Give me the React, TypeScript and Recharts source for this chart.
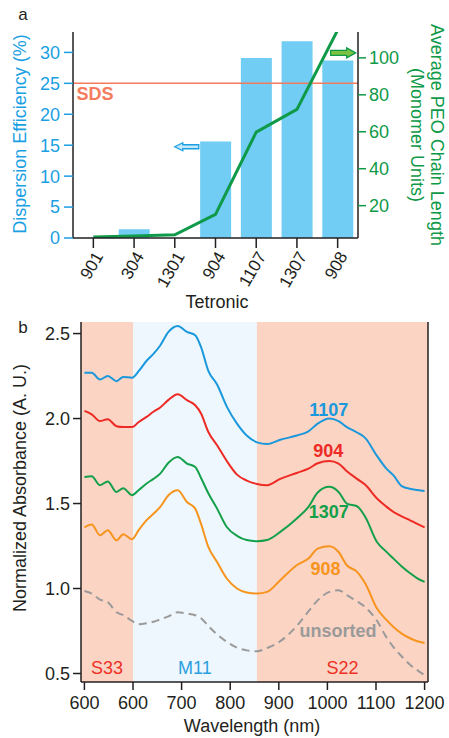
import React from "react";
import {
  ComposedChart,
  LineChart,
  Bar,
  Line,
  XAxis,
  YAxis,
  ReferenceLine,
  ReferenceArea,
  ReferenceDot,
} from "recharts";

// panel a
const tetronic = ["901", "304", "1301", "904", "1107", "1307", "908"];
const efficiency = [0, 1.4, 0, 15.6, 29.1, 31.8, 28.7];
const chainLength = [3, 3.6, 4.2, 15.3, 59.8, 72.1, 115];
const sdsLevel = 25;
const effTicks = [0, 5, 10, 15, 20, 25, 30];
const lenTicks = [20, 40, 60, 80, 100];

// panel b
const wavelength = [500, 515, 532, 548, 566, 580, 598, 612, 628, 642, 656, 673, 692, 711, 728, 740, 755, 773, 793, 814, 834, 855, 876, 903, 937, 961, 980, 1004, 1023, 1040, 1061, 1078, 1102, 1120, 1136, 1153, 1171, 1185, 1200];
const abs1107 = [2.27, 2.27, 2.23, 2.25, 2.22, 2.245, 2.24, 2.28, 2.34, 2.38, 2.43, 2.51, 2.545, 2.51, 2.49, 2.42, 2.28, 2.2, 2.07, 1.97, 1.9, 1.86, 1.85, 1.875, 1.9, 1.925, 1.97, 2.0, 1.985, 1.95, 1.918, 1.885, 1.78, 1.71, 1.666, 1.602, 1.586, 1.58, 1.574];
const abs904 = [2.045, 2.025, 1.985, 1.996, 1.955, 1.95, 1.95, 1.98, 2.01, 2.04, 2.065, 2.11, 2.143, 2.108, 2.078, 2.03, 1.921, 1.843, 1.75, 1.67, 1.635, 1.615, 1.608, 1.645, 1.68, 1.705, 1.737, 1.75, 1.735, 1.69, 1.645, 1.61, 1.53, 1.485, 1.45, 1.425, 1.4, 1.38, 1.36];
const abs1307 = [1.656, 1.66, 1.608, 1.63, 1.568, 1.59, 1.549, 1.58, 1.618, 1.645, 1.676, 1.74, 1.774, 1.735, 1.715, 1.65, 1.56, 1.47, 1.362, 1.31, 1.285, 1.278, 1.285, 1.333, 1.412, 1.48, 1.565, 1.598, 1.568, 1.5, 1.484, 1.421, 1.274, 1.22, 1.176, 1.13, 1.088, 1.06, 1.039];
const abs908 = [1.359, 1.376, 1.314, 1.343, 1.284, 1.319, 1.29, 1.345, 1.402, 1.44, 1.48, 1.549, 1.578, 1.509, 1.47, 1.38, 1.245, 1.156, 1.059, 1.0, 0.976, 0.97, 0.98, 1.049, 1.137, 1.176, 1.235, 1.249, 1.215, 1.137, 1.098, 1.029, 0.882, 0.82, 0.774, 0.735, 0.706, 0.69, 0.68];
const absUnsorted = [0.985, 0.97, 0.935, 0.92, 0.86, 0.843, 0.809, 0.79, 0.795, 0.804, 0.818, 0.836, 0.86, 0.852, 0.843, 0.825, 0.78, 0.73, 0.686, 0.652, 0.636, 0.631, 0.65, 0.69, 0.78, 0.865, 0.93, 0.98, 0.99, 0.961, 0.925, 0.89, 0.81, 0.72, 0.655, 0.6, 0.549, 0.52, 0.49];
const wlTicks = [500, 600, 700, 800, 900, 1000, 1100, 1200];
const wlTickLabels = ["600", "600", "700", "800", "900", "1000", "1100", "1200"];
const absTicks = [0.5, 1.0, 1.5, 2.0, 2.5];

const rowsA = tetronic.map((name, i) => ({ name, eff: efficiency[i], len: chainLength[i] }));
const rowsB = wavelength.map((wl, i) => ({
  wl,
  a1107: abs1107[i],
  a904: abs904[i],
  a1307: abs1307[i],
  a908: abs908[i],
  unsorted: absUnsorted[i],
}));

const FONT = '"Liberation Sans", Arial, Helvetica, sans-serif';
const INK = "#231f20";
const BLUE = "#1a9fe3";
const GREEN = "#0e9a48";

function Txt({ x, y, rotate = 0, color = INK, size = 18, weight = 400, children }: any) {
  return (
    <div
      style={{
        position: "absolute",
        left: x,
        top: y,
        transform: `translate(-50%, -50%) rotate(${rotate}deg)`,
        color,
        fontSize: size,
        fontWeight: weight,
        whiteSpace: "nowrap",
        lineHeight: 1,
        textAlign: "center",
      }}
    >
      {children}
    </div>
  );
}

const leftArrow = (p: any) => {
  const { cx, cy } = p;
  const d = `M${cx},${cy} L${cx + 8},${cy - 4} L${cx + 8},${cy - 2} L${cx + 24},${cy - 2} L${cx + 24},${cy + 2} L${cx + 8},${cy + 2} L${cx + 8},${cy + 4} Z`;
  return <path d={d} fill="#c4e8fa" stroke={BLUE} strokeWidth={1.3} />;
};

const rightArrow = (p: any) => {
  const { cx, cy } = p;
  const x0 = cx - 7;
  const d = `M${x0 + 25},${cy} L${x0 + 16},${cy - 5} L${x0 + 16},${cy - 2.5} L${x0},${cy - 2.5} L${x0},${cy + 2.5} L${x0 + 16},${cy + 2.5} L${x0 + 16},${cy + 5} Z`;
  return <path d={d} fill="#7dc243" stroke={GREEN} strokeWidth={1.2} />;
};

const curveLabel = (value: string, fill: string) => ({
  value,
  position: "center" as const,
  fill,
  fontSize: 18,
  fontWeight: 700,
});

export default function App() {
  return (
    <div style={{ position: "absolute", left: 0, top: 0, width: 449, height: 738, fontFamily: FONT, background: "#fff", overflow: "hidden" }}>
      {/* panel a */}
      <div style={{ position: "absolute", left: 0, top: 0 }}>
        <ComposedChart width={449} height={310} data={rowsA} margin={{ top: 32, right: 31, bottom: 22, left: 33 }}>
          <XAxis
            dataKey="name"
            interval={0}
            height={50}
            tickSize={10}
            tickLine={{ stroke: INK, strokeWidth: 1.5 }}
            axisLine={{ stroke: INK, strokeWidth: 1.5 }}
            tick={{ fill: INK, fontSize: 17, angle: -60, textAnchor: "end" }}
          />
          <XAxis xAxisId="top" orientation="top" dataKey="name" height={0} tick={false} tickLine={false} axisLine={{ stroke: INK, strokeWidth: 1.5 }} />
          <YAxis
            yAxisId="l"
            domain={[0, 33.3]}
            ticks={effTicks}
            allowDataOverflow
            width={40}
            tickSize={9}
            tickMargin={4}
            axisLine={{ stroke: INK, strokeWidth: 1.5 }}
            tickLine={{ stroke: BLUE, strokeWidth: 1.5 }}
            tick={{ fill: BLUE, fontSize: 18 }}
          />
          <YAxis
            yAxisId="r"
            orientation="right"
            domain={[2.5, 114]}
            ticks={lenTicks}
            allowDataOverflow
            width={60}
            tickSize={8}
            tickMargin={3}
            axisLine={{ stroke: INK, strokeWidth: 1.5 }}
            tickLine={{ stroke: GREEN, strokeWidth: 1.5 }}
            tick={{ fill: GREEN, fontSize: 18 }}
          />
          <Bar yAxisId="l" dataKey="eff" fill="#72cdf4" barSize={31} isAnimationActive={false} />
          <ReferenceLine yAxisId="l" y={sdsLevel} stroke="#f47b5e" strokeWidth={1.5} />
          <Line yAxisId="r" type="linear" dataKey="len" stroke={GREEN} strokeWidth={3} dot={false} isAnimationActive={false} />
          <ReferenceDot yAxisId="l" x="1301" y={14.75} r={1} shape={leftArrow} />
          <ReferenceDot yAxisId="r" x="908" y={102.7} r={1} shape={rightArrow} />
        </ComposedChart>
        <Txt x={23} y={14} size={17}>a</Txt>
        <Txt x={20} y={134} rotate={-90} color={BLUE}>Dispersion Efficiency (%)</Txt>
        <Txt x={437} y={135} rotate={90} color={GREEN}>Average PEO Chain Length</Txt>
        <Txt x={417} y={135} rotate={90} color={GREEN}>(Monomer Units)</Txt>
        <Txt x={217} y={302}>Tetronic</Txt>
        <Txt x={95} y={94} color="#f47b5e" weight={700}>SDS</Txt>
      </div>

      {/* panel b */}
      <div style={{ position: "absolute", left: 0, top: 310 }}>
        <LineChart width={449} height={428} data={rowsB} margin={{ top: 12, right: 20, bottom: 26, left: 31 }}>
          <ReferenceArea x1={493} x2={600} y1={0.45} y2={2.568} fill="#fbd4c4" fillOpacity={1} stroke="none"
            label={{ value: "S33", position: "insideBottom", offset: 8, fill: "#ee3124", fontSize: 18 }} />
          <ReferenceArea x1={600} x2={855} y1={0.45} y2={2.568} fill="#eef7fd" fillOpacity={1} stroke="none"
            label={{ value: "M11", position: "insideBottom", offset: 8, fill: "#2aa0e0", fontSize: 18 }} />
          <ReferenceArea x1={855} x2={1207} y1={0.45} y2={2.568} fill="#fbd4c4" fillOpacity={1} stroke="none"
            label={{ value: "S22", position: "insideBottom", offset: 8, fill: "#ee3124", fontSize: 18 }} />
          <XAxis
            type="number"
            dataKey="wl"
            domain={[493, 1207]}
            allowDataOverflow
            ticks={wlTicks}
            tickFormatter={(v: number, i: number) => wlTickLabels[i]}
            height={30}
            tickSize={8}
            tickMargin={6}
            tickLine={{ stroke: INK, strokeWidth: 1.5 }}
            axisLine={{ stroke: INK, strokeWidth: 1.5 }}
            tick={{ fill: INK, fontSize: 18 }}
          />
          <XAxis xAxisId="top" type="number" dataKey="wl" domain={[493, 1207]} orientation="top" height={0} tick={false} tickLine={false} axisLine={{ stroke: INK, strokeWidth: 1.5 }} />
          <YAxis
            domain={[0.45, 2.568]}
            allowDataOverflow
            ticks={absTicks}
            tickFormatter={(v: number) => v.toFixed(1)}
            width={50}
            tickSize={8}
            tickMargin={3}
            tickLine={{ stroke: INK, strokeWidth: 1.5 }}
            axisLine={{ stroke: INK, strokeWidth: 1.5 }}
            tick={{ fill: INK, fontSize: 18 }}
          />
          <YAxis yAxisId="r" orientation="right" domain={[0.45, 2.568]} width={1} tick={false} tickLine={false} axisLine={{ stroke: INK, strokeWidth: 1.5 }} />
          <Line type="monotone" dataKey="a1107" stroke="#1a98dc" strokeWidth={2} dot={false} isAnimationActive={false} />
          <Line type="monotone" dataKey="a904" stroke="#ee2a24" strokeWidth={2} dot={false} isAnimationActive={false} />
          <Line type="monotone" dataKey="a1307" stroke="#14a04a" strokeWidth={2} dot={false} isAnimationActive={false} />
          <Line type="monotone" dataKey="a908" stroke="#f7941d" strokeWidth={2} dot={false} isAnimationActive={false} />
          <Line type="monotone" dataKey="unsorted" stroke="#9a9a9a" strokeWidth={2} strokeDasharray="8 5" dot={false} isAnimationActive={false} />
          <ReferenceDot x={1003} y={2.055} r={1} fill="none" stroke="none" label={curveLabel("1107", "#1a98dc")} />
          <ReferenceDot x={1002} y={1.809} r={1} fill="none" stroke="none" label={curveLabel("904", "#ee2a24")} />
          <ReferenceDot x={1003} y={1.451} r={1} fill="none" stroke="none" label={curveLabel("1307", "#14a04a")} />
          <ReferenceDot x={996} y={1.118} r={1} fill="none" stroke="none" label={curveLabel("908", "#f7941d")} />
          <ReferenceDot x={1022} y={0.755} r={1} fill="none" stroke="none" label={curveLabel("unsorted", "#9a9a9a")} />
        </LineChart>
        <Txt x={23} y={17} size={17}>b</Txt>
        <Txt x={20} y={178} rotate={-90}>Normalized Absorbance (A. U.)</Txt>
        <Txt x={252} y={416}>Wavelength (nm)</Txt>
      </div>
    </div>
  );
}
